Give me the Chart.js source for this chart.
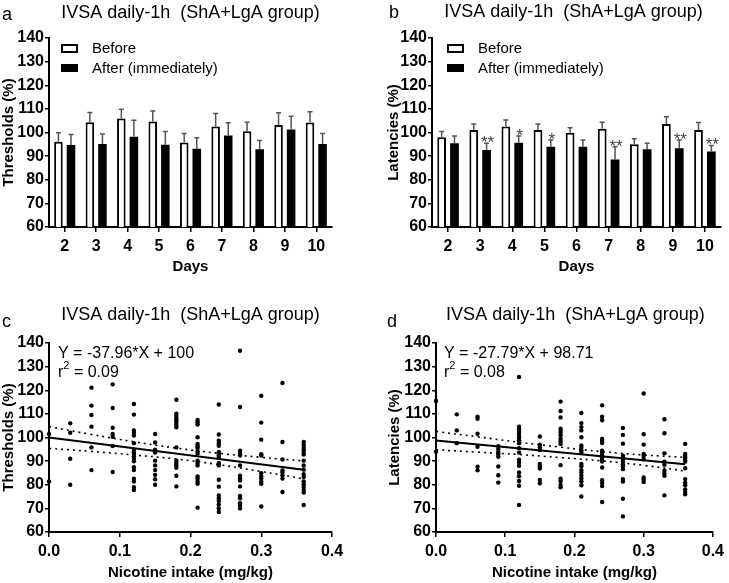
<!DOCTYPE html>
<html>
<head>
<meta charset="utf-8">
<script src="https://cdn.jsdelivr.net/npm/chart.js@4.4.1/dist/chart.umd.min.js"></script>
<style>
  body { margin: 0; background: #fff; }
  #fig { position: relative; width: 729px; height: 583px; }
  #fig canvas { position: absolute; }
</style>
</head>
<body>
<div id="fig">
  <canvas id="pa" width="364" height="290" style="left:0;top:0"></canvas>
  <canvas id="pb" width="365" height="290" style="left:364px;top:0"></canvas>
  <canvas id="pc" width="364" height="293" style="left:0;top:290px"></canvas>
  <canvas id="pd" width="365" height="293" style="left:364px;top:290px"></canvas>
</div>
<script>
// ── data ──
const panelTitle = 'IVSA daily-1h  (ShA+LgA group)';
const days = ['2', '3', '4', '5', '6', '7', '8', '9', '10'];

const thrBefore    = [96.1, 104.3, 105.9, 104.7, 95.8, 102.5, 100.5, 103.2, 104.2];
const thrBeforeSem = [3.8, 4.2, 3.9, 4.4, 3.8, 5.5, 3.8, 5.2, 4.6];
const thrAfter     = [94.7, 95.1, 98.2, 94.8, 93.1, 98.7, 92.9, 101.3, 95.1];
const thrAfterSem  = [4.5, 4.3, 7.0, 5.6, 4.7, 5.4, 3.7, 5.6, 4.5];

const latBefore    = [98.0, 101.1, 102.5, 101.1, 99.9, 101.6, 95.0, 103.6, 101.1];
const latBeforeSem = [2.4, 2.5, 2.8, 2.5, 2.1, 2.7, 2.4, 3.1, 3.1];
const latAfter     = [95.4, 92.6, 95.7, 94.0, 94.0, 88.6, 92.9, 93.3, 92.0];
const latAfterSem  = [3.1, 2.8, 2.8, 2.8, 2.8, 5.4, 2.5, 3.5, 2.5];
const latStars     = ['', '**', '*', '*', '', '**', '', '**', '**'];

const doses = [0, 0.03, 0.06, 0.09, 0.12, 0.15, 0.18, 0.21, 0.24, 0.27, 0.30, 0.33, 0.36];
const thrByDose = [
  [101.5, 81.4],
  [106.0, 102.0, 91.0, 80.0],
  [121.1, 113.5, 109.5, 104.6, 95.8, 86.2],
  [122.5, 112.5, 104.1, 101.5, 100.3, 96.4, 85.4],
  [114.2, 109.7, 103.0, 102.0, 100.8, 97.6, 94.8, 93.8, 93.0, 92.1, 91.0, 89.9, 87.4, 86.2, 82.6, 81.4, 79.0, 77.8],
  [101.5, 97.9, 94.8, 93.6, 90.2, 88.2, 86.2, 84.2, 82.3, 80.0],
  [116.0, 110.1, 109.1, 108.2, 107.3, 106.3, 105.3, 104.3, 95.8, 90.2, 89.2, 88.2, 87.2, 83.8, 79.3],
  [107.4, 106.5, 105.5, 100.1, 97.3, 96.3, 95.6, 94.2, 93.2, 90.2, 89.2, 88.2, 83.5, 82.6, 81.4, 80.4, 70.3],
  [114.0, 101.3, 98.6, 97.6, 96.5, 93.9, 93.2, 92.4, 91.5, 89.2, 88.2, 82.1, 79.2, 75.5, 74.3, 73.1, 71.6, 70.0, 68.5],
  [136.7, 112.9, 94.4, 93.4, 92.4, 88.2, 83.8, 82.8, 81.8, 79.3, 75.3, 74.3, 72.2, 71.1, 70.0],
  [117.7, 106.3, 99.1, 92.9, 92.4, 84.9, 83.5, 82.6, 81.4, 80.4, 70.8],
  [123.1, 98.1, 90.7, 86.1, 85.2, 84.0, 82.6, 76.9],
  [98.1, 97.0, 96.0, 94.9, 93.9, 92.8, 90.2, 88.2, 86.4, 84.5, 83.3, 81.4, 80.2, 79.1, 77.8, 76.7, 71.4]
];
const latByDose = [
  [115.5, 94.0],
  [109.8, 103.0, 97.6],
  [108.8, 107.9, 101.6, 96.1, 87.6, 86.1],
  [96.3, 95.2, 94.0, 92.9, 91.8, 87.7, 84.0, 80.9],
  [125.6, 104.6, 103.4, 102.3, 101.2, 100.0, 98.8, 97.6, 95.5, 93.6, 90.6, 89.3, 88.0, 85.2, 83.6, 81.6, 79.6, 71.4],
  [100.4, 97.0, 95.9, 94.7, 88.8, 87.8, 86.9, 82.0, 80.6],
  [115.2, 111.2, 108.5, 103.7, 102.9, 102.0, 100.9, 99.4, 98.3, 97.3, 88.3, 82.6, 81.6, 79.9, 78.9],
  [110.4, 106.1, 104.4, 103.0, 100.1, 96.6, 95.6, 94.5, 93.7, 88.8, 87.8, 86.2, 85.2, 83.8, 82.6, 81.5, 79.8, 75.0],
  [113.6, 108.8, 107.3, 99.4, 98.6, 97.7, 94.4, 93.5, 92.6, 91.6, 90.6, 89.8, 87.3, 81.9, 80.8, 79.5, 72.7],
  [104.0, 101.1, 97.4, 92.3, 91.5, 90.6, 89.8, 88.7, 87.8, 86.6, 82.4, 81.4, 74.1, 66.6],
  [118.6, 101.4, 97.0, 93.0, 92.2, 90.8, 83.1, 82.2, 81.2],
  [107.7, 101.8, 93.3, 89.8, 88.5, 86.0, 84.8, 83.8, 75.5],
  [97.3, 93.0, 92.2, 91.4, 90.6, 89.8, 87.0, 82.4, 80.9, 79.8, 78.0, 76.9, 76.0]
];

// fit lines (ends at 0 and 0.36) and 95% bands read at these doses
const fitDoses  = [0, 0.36];
const thrFit    = [100, 86.33];
const latFit    = [98.71, 88.71];
const bandDoses = [0, 0.06, 0.12, 0.18, 0.24, 0.30, 0.36];
const thrUpper  = [104.6, 101.3, 98.2, 95.5, 93.3, 91.6, 90.1];
const thrLower  = [95.4, 94.1, 92.6, 90.9, 88.5, 85.6, 82.5];
const latUpper  = [102.6, 100.3, 98.0, 95.9, 94.0, 92.6, 91.6];
const latLower  = [94.8, 93.8, 92.8, 91.5, 90.1, 88.2, 85.8];

// ── shared look ──
const FONT = '"Liberation Sans", Arial, sans-serif';
Chart.defaults.font.family = FONT;
Chart.defaults.color = '#000';
Chart.defaults.animation = false;

const pairs = (xs, ys) => xs.map((x, i) => ({ x, y: ys[i] }));

// error bars (upper half) + significance stars
const errorBars = {
  id: 'errorBars',
  afterDatasetsDraw(chart) {
    const { ctx } = chart;
    const y = chart.scales.y;
    chart.data.datasets.forEach((ds, i) => {
      if (!ds.sem) return;
      chart.getDatasetMeta(i).data.forEach((bar, j) => {
        const top = y.getPixelForValue(ds.data[j] + ds.sem[j]);
        ctx.save();
        ctx.strokeStyle = '#555';
        ctx.lineWidth = 1.5;
        ctx.beginPath();
        ctx.moveTo(bar.x, bar.y);
        ctx.lineTo(bar.x, top);
        ctx.moveTo(bar.x - 2.5, top);
        ctx.lineTo(bar.x + 2.5, top);
        ctx.stroke();
        if (ds.stars && ds.stars[j]) {
          ctx.fillStyle = '#444';
          ctx.font = '17px ' + FONT;
          ctx.textAlign = 'center';
          ctx.textBaseline = 'alphabetic';
          ctx.fillText(ds.stars[j], bar.x + 1, top + 5);
        }
        ctx.restore();
      });
    });
  }
};

// panel letter, title, legend, fit equation
const panelText = {
  id: 'panelText',
  afterDraw(chart, args, o) {
    const { ctx, chartArea: a } = chart;
    ctx.save();
    ctx.fillStyle = '#000';
    ctx.textBaseline = 'alphabetic';
    ctx.font = '18px ' + FONT;
    ctx.textAlign = 'left';
    ctx.fillText(o.letter, o.letterX, o.letterY);
    ctx.textAlign = 'center';
    ctx.fillText(panelTitle, (a.left + a.right) / 2 + o.titleDx, o.titleY);

    if (o.legend) {
      const bx = a.left + o.legend.dx;
      ctx.lineWidth = 2;
      ctx.strokeStyle = '#000';
      ctx.strokeRect(bx + 1, a.top + 7, 15, 7);
      ctx.fillRect(bx, a.top + 26, 17, 8);
      ctx.font = '15px ' + FONT;
      ctx.textAlign = 'left';
      ctx.fillText('Before', bx + 31, a.top + 15);
      ctx.fillText('After (immediately)', bx + 31, a.top + 35);
    }
    if (o.eq) {
      const ex = a.left + o.eq.dx;
      ctx.font = '16px ' + FONT;
      ctx.textAlign = 'left';
      ctx.fillText(o.eq.text, ex, a.top + 15);
      ctx.fillText('r', ex, a.top + 34);
      const rw = ctx.measureText('r').width;
      ctx.font = '11px ' + FONT;
      ctx.fillText('2', ex + rw, a.top + 26);
      const sw = ctx.measureText('2').width;
      ctx.font = '16px ' + FONT;
      ctx.fillText(' = ' + o.eq.r2, ex + rw + sw, a.top + 34);
    }
    ctx.restore();
  }
};

function axisCommon(extra) {
  return Object.assign({
    grid: { drawOnChartArea: false, color: '#000', lineWidth: 1.5, tickLength: 5 },
    border: { color: '#000', width: 2 },
  }, extra);
}

function yAxis(title, width, titlePad) {
  return axisCommon({
    min: 60, max: 140,
    ticks: { stepSize: 10, padding: 1, font: { size: 16, weight: 'bold' }, color: '#000' },
    grid: { drawOnChartArea: false, color: '#000', lineWidth: 1.5, tickLength: 4 },
    title: { display: true, text: title, font: { size: 15, weight: 'bold' }, color: '#000', padding: { top: titlePad, bottom: 0 } },
    afterFit: s => { s.width = width; }
  });
}

function barPanel(id, yTitle, yWidth, yTitlePad, padRight, before, beforeSem, after, afterSem, stars, text) {
  return new Chart(document.getElementById(id), {
    type: 'bar',
    data: {
      labels: days,
      datasets: [
        { label: 'Before', data: before, sem: beforeSem, backgroundColor: '#fff', borderColor: '#000',
          borderWidth: 2, barPercentage: 0.68, categoryPercentage: 0.8 },
        { label: 'After (immediately)', data: after, sem: afterSem, stars, backgroundColor: '#000',
          borderColor: '#000', borderWidth: 0, barPercentage: 0.68, categoryPercentage: 0.8 }
      ]
    },
    options: {
      responsive: false,
      layout: { padding: { top: 38, right: padRight, left: 0, bottom: 0 } },
      plugins: { legend: { display: false }, tooltip: { enabled: false }, panelText: text },
      scales: {
        x: axisCommon({
          grid: { drawOnChartArea: false, offset: false, color: '#000', lineWidth: 1.5, tickLength: 5 },
          ticks: { padding: 5, font: { size: 16, weight: 'bold' }, color: '#000' },
          title: { display: true, text: 'Days', font: { size: 15, weight: 'bold' }, color: '#000', padding: { top: 0, bottom: 14 } },
          afterFit: s => { s.height = 63; }
        }),
        y: yAxis(yTitle, yWidth, yTitlePad)
      }
    },
    plugins: [errorBars, panelText]
  });
}

function scatterPanel(id, yTitle, yWidth, yTitlePad, padRight, byDose, fit, upper, lower, text) {
  const pts = doses.flatMap((d, i) => byDose[i].map(v => ({ x: d, y: v })));
  const band = ys => ({ data: pairs(bandDoses, ys), showLine: true, pointRadius: 0, borderColor: '#000',
    borderWidth: 1.6, borderDash: [2, 4], tension: 0.4, fill: false, clip: false });
  return new Chart(document.getElementById(id), {
    type: 'scatter',
    data: {
      datasets: [
        { data: pts, pointRadius: 2.2, pointBackgroundColor: '#000', pointBorderWidth: 0, clip: false },
        { data: pairs(fitDoses, fit), showLine: true, pointRadius: 0, borderColor: '#000', borderWidth: 2, clip: false },
        band(upper),
        band(lower)
      ]
    },
    options: {
      responsive: false,
      layout: { padding: { top: 53, right: padRight, left: 0, bottom: 0 } },
      plugins: { legend: { display: false }, tooltip: { enabled: false }, panelText: text },
      scales: {
        x: axisCommon({
          type: 'linear', min: 0, max: 0.4,
          ticks: { stepSize: 0.1, padding: 5, font: { size: 16, weight: 'bold' }, color: '#000', callback: v => v.toFixed(1) },
          title: { display: true, text: 'Nicotine intake (mg/kg)', font: { size: 15, weight: 'bold' }, color: '#000', padding: { top: 0, bottom: 1 } },
          afterFit: s => { s.height = 51; }
        }),
        y: yAxis(yTitle, yWidth, yTitlePad)
      }
    },
    plugins: [panelText]
  });
}

barPanel('pa', 'Thresholds (%)', 49, 0, 32, thrBefore, thrBeforeSem, thrAfter, thrAfterSem, null,
  { letter: 'a', letterX: 2, letterY: 20, titleDx: 0, titleY: 18, legend: { dx: 12 } });
barPanel('pb', 'Latencies (%)', 68, 21, 8, latBefore, latBeforeSem, latAfter, latAfterSem, latStars,
  { letter: 'b', letterX: 25, letterY: 18, titleDx: -3, titleY: 17, legend: { dx: 15 } });
scatterPanel('pc', 'Thresholds (%)', 49, 0, 32, thrByDose, thrFit, thrUpper, thrLower,
  { letter: 'c', letterX: 2, letterY: 37, titleDx: 0, titleY: 30, eq: { dx: 9, text: 'Y = -37.96*X + 100', r2: '0.09' } });
scatterPanel('pd', 'Latencies (%)', 72, 22, 11, latByDose, latFit, latUpper, latLower,
  { letter: 'd', letterX: 23, letterY: 37, titleDx: 1, titleY: 30, eq: { dx: 8, text: 'Y = -27.79*X + 98.71', r2: '0.08' } });
</script>
</body>
</html>
